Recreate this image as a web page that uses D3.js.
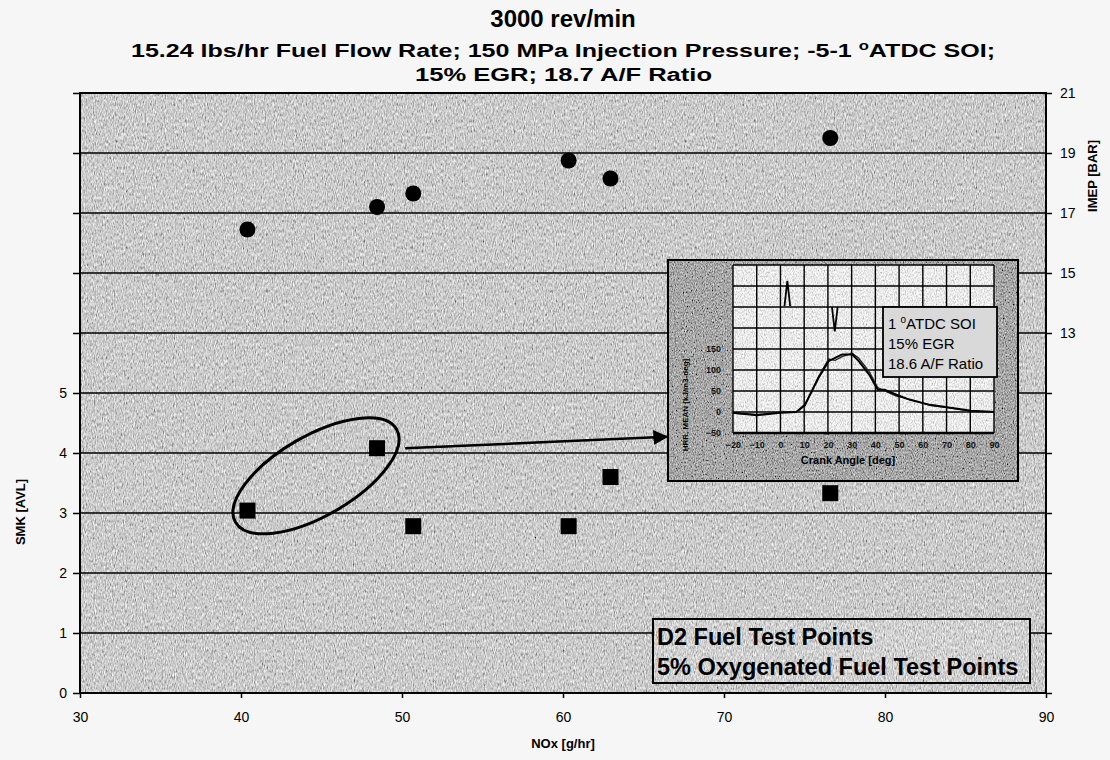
<!DOCTYPE html>
<html>
<head>
<meta charset="utf-8">
<title>3000 rev/min</title>
<script src="https://d3js.org/d3.v7.min.js"></script>
<style>
  body { margin: 0; background: #f6f6f6; }
  svg { display: block; font-family: "Liberation Sans", Arial, sans-serif; }
  .axis text { font-size: 14px; fill: #000; }
  .axis line { stroke: #000; stroke-width: 1.5px; }
  .axis path { display: none; }
  .inset-axis text { font-size: 9px; font-weight: bold; fill: #111; }
  .inset-axis line, .inset-axis path { display: none; }
</style>
</head>
<body>
<svg width="1110" height="760"></svg>
<script>
// main chart values
var nox = [40.4, 48.45, 50.7, 60.35, 62.95, 76.6];
var imepBar = [16.45, 17.2, 17.65, 18.75, 18.15, 19.5];
var smkAvl = [3.04, 4.08, 2.78, 2.78, 3.6, 3.33];
var noxTicks = [30, 40, 50, 60, 70, 80, 90];
var smkLabels = [0, 1, 2, 3, 4, 5];
var imepLabels = [13, 15, 17, 19, 21];
var legendLabels = ["D2 Fuel Test Points", "5% Oxygenated Fuel Test Points"];

// inset (heat release vs crank angle)
var crankAngle = [-20, -10, 0, 6.7, 10.3, 16, 20.3, 23, 26, 30.3, 33, 37.4, 41, 43.9, 48.9, 54.6, 63, 71.7, 80.3, 90];
var hrrMean   = [-2, -8, -2, 0, 17, 81, 121, 129, 137, 137, 121, 89, 53, 53, 41, 29, 17, 10, 3, 0];
var hrrCycle  = [-3, -6, -1, 1, 15, 84, 126, 123, 132, 140, 128, 96, 58, 50, 38, 30, 16, 9, 2, 1];
var needleAngle = [1.7, 2.9, 4.1];
var needleValue = [252, 312, 252];
var pulseAngle = [21.7, 22.9, 24.1];
var pulseValue = [250, 192, 250];
var insetXTicks = [-20, -10, 0, 10, 20, 30, 40, 50, 60, 70, 80, 90];
var insetYLabels = [-50, 0, 50, 100, 150];

var svg = d3.select("svg");
var defs = svg.append("defs");

// scanned-paper grain
function grain(id, offset, freq) {
  var f = defs.append("filter").attr("id", id)
      .attr("x", 0).attr("y", 0).attr("width", 1).attr("height", 1);
  f.append("feTurbulence").attr("type", "fractalNoise")
      .attr("baseFrequency", freq).attr("numOctaves", 2).attr("seed", 7);
  f.append("feColorMatrix").attr("type", "matrix")
      .attr("values", "0.6 0.6 0.6 0 " + offset + "  0.6 0.6 0.6 0 " + offset +
                      "  0.6 0.6 0.6 0 " + offset + "  0 0 0 0 1");
}
grain("grainPlot", -0.31, "0.9 0.3");
grain("grainDark", -0.52, "0.9 0.5");
grain("grainLight", -0.08, "0.9 0.5");
grain("grainLegend", -0.27, "0.9 0.3");

defs.append("marker").attr("id", "head")
    .attr("viewBox", "0 0 10 10").attr("refX", 9).attr("refY", 5)
    .attr("markerWidth", 6).attr("markerHeight", 6).attr("orient", "auto")
  .append("path").attr("d", "M0,0L10,5L0,10Z").attr("fill", "#000");

var plotL = 80, plotR = 1046, plotT = 93, plotB = 693;

var x = d3.scaleLinear().domain([30, 90]).range([plotL, plotR]);
var ySmk = d3.scaleLinear().domain([0, 10]).range([plotB, plotT]);
var yImep = d3.scaleLinear().domain([1, 21]).range([plotB, plotT]);

var gridSmk = ySmk.ticks(10);
var gridImep = gridSmk.map(function(v) { return Math.round(yImep.invert(ySmk(v))); });

svg.append("rect")
    .attr("x", plotL).attr("y", plotT)
    .attr("width", plotR - plotL).attr("height", plotB - plotT)
    .attr("filter", "url(#grainPlot)");

svg.append("g").selectAll("line")
    .data(gridSmk)
    .enter().append("line")
    .attr("x1", plotL).attr("x2", plotR)
    .attr("y1", function(d) { return ySmk(d); })
    .attr("y2", function(d) { return ySmk(d); })
    .attr("stroke", "#000").attr("stroke-width", 1.7);

// frame
svg.append("rect")
    .attr("x", plotL).attr("y", plotT)
    .attr("width", plotR - plotL).attr("height", plotB - plotT)
    .attr("fill", "none").attr("stroke", "#000").attr("stroke-width", 2);

svg.append("g").attr("class", "axis")
    .attr("transform", "translate(" + plotL + ",0)")
    .call(d3.axisLeft(ySmk).tickValues(gridSmk).tickSize(7).tickPadding(6)
      .tickFormat(function(d) { return smkLabels.indexOf(d) >= 0 ? d : ""; }));

svg.append("g").attr("class", "axis")
    .attr("transform", "translate(" + plotR + ",0)")
    .call(d3.axisRight(yImep).tickValues(gridImep).tickSize(6).tickPadding(8)
      .tickFormat(function(d) { return imepLabels.indexOf(d) >= 0 ? d : ""; }));

svg.append("g").attr("class", "axis")
    .attr("transform", "translate(0," + plotB + ")")
    .call(d3.axisBottom(x).tickValues(noxTicks).tickSize(5).tickPadding(14));

// annotation: ellipse and arrow toward the inset
svg.append("ellipse")
    .attr("transform", "translate(" + x(44.66) + "," + ySmk(3.62) + ") rotate(-30)")
    .attr("rx", 93).attr("ry", 40)
    .attr("fill", "none").attr("stroke", "#000").attr("stroke-width", 3);

svg.append("line")
    .attr("x1", x(50.2)).attr("y1", ySmk(4.08))
    .attr("x2", x(66.45)).attr("y2", ySmk(4.27))
    .attr("stroke", "#000").attr("stroke-width", 2.5)
    .attr("marker-end", "url(#head)");

// markers
svg.append("g").selectAll("circle")
    .data(nox)
    .enter().append("circle")
    .attr("cx", function(d) { return x(d); })
    .attr("cy", function(d, i) { return yImep(imepBar[i]); })
    .attr("r", 8).attr("fill", "#000");

svg.append("g").selectAll("rect")
    .data(nox)
    .enter().append("rect")
    .attr("x", function(d) { return x(d) - 8; })
    .attr("y", function(d, i) { return ySmk(smkAvl[i]) - 8; })
    .attr("width", 16).attr("height", 16).attr("fill", "#000");

// inset chart
var inset = svg.append("g");
inset.append("rect")
    .attr("x", 668).attr("y", 260).attr("width", 350).attr("height", 221)
    .attr("filter", "url(#grainDark)");
inset.append("rect")
    .attr("x", 668).attr("y", 260).attr("width", 350).attr("height", 221)
    .attr("fill", "none").attr("stroke", "#000").attr("stroke-width", 2);

var ix = d3.scaleLinear().domain([-20, 90]).range([733, 994]);
var iy = d3.scaleLinear().domain([-50, 350]).range([433, 265]);

inset.append("rect")
    .attr("x", ix(-20)).attr("y", iy(350))
    .attr("width", ix(90) - ix(-20)).attr("height", iy(-50) - iy(350))
    .attr("filter", "url(#grainLight)");

inset.append("g").selectAll("line")
    .data(insetXTicks)
    .enter().append("line")
    .attr("x1", function(d) { return ix(d); }).attr("x2", function(d) { return ix(d); })
    .attr("y1", iy(350)).attr("y2", iy(-50))
    .attr("stroke", "#000").attr("stroke-width", 1.4);

inset.append("g").selectAll("line")
    .data(iy.ticks(8))
    .enter().append("line")
    .attr("x1", ix(-20)).attr("x2", ix(90))
    .attr("y1", function(d) { return iy(d); }).attr("y2", function(d) { return iy(d); })
    .attr("stroke", "#000").attr("stroke-width", 1.4);

inset.append("line")
    .attr("x1", ix(-20)).attr("x2", ix(90))
    .attr("y1", iy(-50)).attr("y2", iy(-50))
    .attr("stroke", "#000").attr("stroke-width", 2.5);

var hrrLine = d3.line()
    .x(function(d) { return ix(d[0]); })
    .y(function(d) { return iy(d[1]); });

inset.append("path")
    .datum(d3.zip(crankAngle, hrrCycle))
    .attr("d", hrrLine).attr("fill", "none")
    .attr("stroke", "#222").attr("stroke-width", 1.3);
inset.append("path")
    .datum(d3.zip(crankAngle, hrrMean))
    .attr("d", hrrLine).attr("fill", "none")
    .attr("stroke", "#000").attr("stroke-width", 2);
inset.append("path")
    .datum(d3.zip(needleAngle, needleValue))
    .attr("d", hrrLine).attr("fill", "none")
    .attr("stroke", "#000").attr("stroke-width", 1.8);
inset.append("path")
    .datum(d3.zip(pulseAngle, pulseValue))
    .attr("d", hrrLine).attr("fill", "none")
    .attr("stroke", "#000").attr("stroke-width", 1.8);

inset.append("g").attr("class", "inset-axis")
    .attr("transform", "translate(0," + iy(-50) + ")")
    .call(d3.axisBottom(ix).tickValues(insetXTicks).tickSize(0).tickPadding(9));
inset.append("g").attr("class", "inset-axis")
    .attr("transform", "translate(" + ix(-20) + ",0)")
    .call(d3.axisLeft(iy).tickValues(insetYLabels).tickSize(0).tickPadding(12));

inset.append("text")
    .attr("x", 848).attr("y", 464)
    .attr("text-anchor", "middle")
    .style("font-size", "11px").style("font-weight", "bold")
    .text("Crank Angle [deg]");
inset.append("text")
    .attr("transform", "translate(688,405) rotate(-90)")
    .attr("text-anchor", "middle")
    .style("font-size", "8px").style("font-weight", "bold")
    .text("HRR, MEAN [kJ/m3-deg]");

// inset note box
inset.append("rect")
    .attr("x", 883).attr("y", 307).attr("width", 114).attr("height", 70)
    .attr("fill", "#d9d9d9").attr("stroke", "#000").attr("stroke-width", 1.8);
var note = inset.append("text")
    .attr("x", 888).attr("y", 329)
    .style("font-size", "15px");
note.append("tspan").text("1 ");
note.append("tspan").attr("dy", -6).style("font-size", "10px").text("o");
note.append("tspan").attr("dy", 6).text("ATDC SOI");
inset.append("text").attr("x", 888).attr("y", 349).style("font-size", "15px").text("15% EGR");
inset.append("text").attr("x", 888).attr("y", 369).style("font-size", "15px").text("18.6 A/F Ratio");

// legend
svg.append("rect")
    .attr("x", 653).attr("y", 619).attr("width", 377).attr("height", 64)
    .attr("filter", "url(#grainLegend)");
svg.append("rect")
    .attr("x", 653).attr("y", 619).attr("width", 377).attr("height", 64)
    .attr("fill", "none").attr("stroke", "#000").attr("stroke-width", 2);
svg.append("g").selectAll("text")
    .data(legendLabels)
    .enter().append("text")
    .attr("x", 657)
    .attr("y", function(d, i) { return 645 + i * 30; })
    .style("font-size", "23.5px").style("font-weight", "bold")
    .text(function(d) { return d; });

// titles
svg.append("text")
    .attr("x", 563).attr("y", 27)
    .attr("text-anchor", "middle")
    .style("font-size", "24px").style("font-weight", "bold")
    .text("3000 rev/min");

var sub = svg.append("text")
    .attr("x", 131).attr("y", 57)
    .attr("textLength", 864).attr("lengthAdjust", "spacingAndGlyphs")
    .style("font-size", "18px").style("font-weight", "bold");
sub.append("tspan").text("15.24 lbs/hr Fuel Flow Rate; 150 MPa Injection Pressure; -5-1 ");
sub.append("tspan").attr("dy", -7).style("font-size", "12px").text("o");
sub.append("tspan").attr("dy", 7).text("ATDC SOI;");

svg.append("text")
    .attr("x", 415).attr("y", 81)
    .attr("textLength", 297).attr("lengthAdjust", "spacingAndGlyphs")
    .style("font-size", "18px").style("font-weight", "bold")
    .text("15% EGR; 18.7 A/F Ratio");

svg.append("text")
    .attr("x", 563).attr("y", 748)
    .attr("text-anchor", "middle")
    .style("font-size", "13px").style("font-weight", "bold")
    .text("NOx [g/hr]");

svg.append("text")
    .attr("transform", "translate(25,512) rotate(-90)")
    .attr("text-anchor", "middle")
    .style("font-size", "13px").style("font-weight", "bold")
    .text("SMK [AVL]");

svg.append("text")
    .attr("transform", "translate(1097,176) rotate(-90)")
    .attr("text-anchor", "middle")
    .style("font-size", "13px").style("font-weight", "bold")
    .text("IMEP [BAR]");
</script>
</body>
</html>
